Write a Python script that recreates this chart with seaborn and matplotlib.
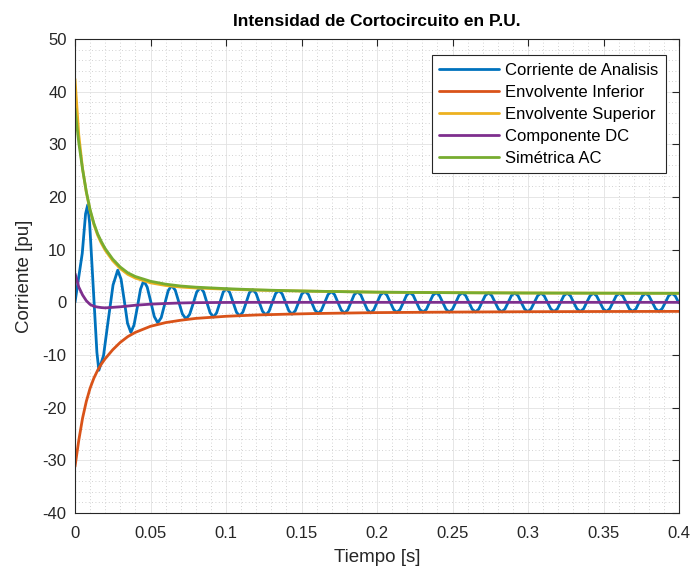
import matplotlib
matplotlib.use("Agg")
import matplotlib.pyplot as plt
import seaborn as sns
import pandas as pd
from matplotlib.ticker import MultipleLocator

# ---------------- data ----------------
t_env = [0, 0.0025, 0.005, 0.0075, 0.01, 0.0125, 0.015, 0.0175, 0.02, 0.025, 0.03,
         0.035, 0.04, 0.05, 0.06, 0.07, 0.08, 0.1, 0.12, 0.14, 0.16, 0.2, 0.25,
         0.3, 0.35, 0.4]
sim_ac = [36.8, 30.3, 25.3, 21.0, 17.6, 15.0, 13.0, 11.5, 10.2, 8.2, 6.7,
          5.6, 4.9, 4.0, 3.45, 3.1, 2.88, 2.6, 2.38, 2.22, 2.1, 1.93, 1.83,
          1.77, 1.74, 1.72]
env_sup = [42.4, 31.8, 25.4, 20.9, 17.4, 14.8, 12.75, 11.2, 9.9, 7.9, 6.4,
           5.3, 4.6, 3.7, 3.2, 2.9, 2.72, 2.5, 2.32, 2.2, 2.1, 1.93, 1.83,
           1.77, 1.74, 1.72]
env_inf = [-31.2, -26.2, -22.0, -18.8, -16.3, -14.4, -12.9, -11.7, -10.7, -9.0, -7.6,
           -6.5, -5.7, -4.55, -3.85, -3.4, -3.05, -2.65, -2.4, -2.25, -2.12, -1.95, -1.85,
           -1.78, -1.74, -1.72]
comp_dc = [5.5, 2.9, 1.4, 0.3, -0.4, -0.75, -0.9, -1.0, -1.05, -0.95, -0.85,
           -0.7, -0.55, -0.35, -0.22, -0.12, -0.06, -0.02, 0, 0, 0, 0, 0,
           0, 0, 0]

t_blue = [0, 0.0048, 0.0070, 0.0084, 0.0097, 0.0121, 0.0145, 0.0158,
          0.0189, 0.0220, 0.0252, 0.0283, 0.0305, 0.0327, 0.0348, 0.0370,
          0.0391, 0.0413, 0.0434, 0.0455, 0.0478, 0.0502, 0.0525, 0.0548,
          0.0571, 0.0594, 0.0617, 0.0640, 0.0664, 0.0688, 0.0711, 0.0735,
          0.0759, 0.0783, 0.0806,
          0.0830, 0.0852, 0.0873, 0.0895, 0.0917, 0.0938, 0.0960, 0.0982,
          0.1004, 0.1025, 0.1047, 0.1069, 0.1090, 0.1112, 0.1134, 0.1155,
          0.1177, 0.1199, 0.1220, 0.1242, 0.1264, 0.1285, 0.1307, 0.1329,
          0.1351, 0.1372, 0.1394, 0.1416, 0.1437, 0.1459, 0.1481, 0.1502,
          0.1524, 0.1546, 0.1567, 0.1589, 0.1611, 0.1632, 0.1654, 0.1676,
          0.1698, 0.1719, 0.1741, 0.1763, 0.1784, 0.1806, 0.1828, 0.1849,
          0.1871, 0.1893, 0.1914, 0.1936, 0.1958, 0.1979, 0.2001, 0.2023,
          0.2045, 0.2066, 0.2088, 0.2110, 0.2131, 0.2153, 0.2175, 0.2196,
          0.2218, 0.2240, 0.2261, 0.2283, 0.2305, 0.2327, 0.2348, 0.2370,
          0.2392, 0.2413, 0.2435, 0.2457, 0.2478, 0.2500, 0.2522, 0.2543,
          0.2565, 0.2587, 0.2609, 0.2630, 0.2652, 0.2674, 0.2695, 0.2717,
          0.2739, 0.2760, 0.2782, 0.2804, 0.2825, 0.2847, 0.2869, 0.2890,
          0.2912, 0.2934, 0.2955, 0.2977, 0.2999, 0.3020, 0.3042, 0.3064,
          0.3086, 0.3107, 0.3129, 0.3151, 0.3172, 0.3194, 0.3216, 0.3237,
          0.3259, 0.3281, 0.3302, 0.3324, 0.3346, 0.3368, 0.3389, 0.3411,
          0.3433, 0.3454, 0.3476, 0.3498, 0.3519, 0.3541, 0.3563, 0.3584,
          0.3606, 0.3628, 0.3650, 0.3671, 0.3693, 0.3715, 0.3736, 0.3758,
          0.3780, 0.3801, 0.3823, 0.3845, 0.3866, 0.3888, 0.3910, 0.3931,
          0.3953, 0.3975, 0.3997, 0.4]
i_blue = [0, 9.3, 16.8, 18.5, 15.0, 2.8, -9.5, -12.9,
          -10.1, -3.4, 3.3, 6.1, 4.4, 0.2, -4.0, -5.7,
          -4.3, -0.9, 2.5, 4.1, 2.9, 0.1, -2.7, -3.9,
          -2.9, -0.35, 2.2, 3.2, 2.3, 0.0, -2.2, -3.15,
          -2.3, -0.2, 1.95,
          2.8, 1.99, 0, -1.99, -2.8, -1.99, 0, 1.99,
          2.6, 1.85, 0, -1.85, -2.6, -1.85, 0, 1.85,
          2.4, 1.70, 0, -1.70, -2.4, -1.70, 0, 1.70,
          2.25, 1.60, 0, -1.60, -2.25, -1.60, 0, 1.60,
          2.1, 1.49, 0, -1.49, -2.1, -1.49, 0, 1.49,
          2.05, 1.46, 0, -1.46, -2.05, -1.46, 0, 1.46,
          2.0, 1.42, 0, -1.42, -2.0, -1.42, 0, 1.42,
          1.92, 1.36, 0, -1.36, -1.92, -1.36, 0, 1.36,
          1.88, 1.33, 0, -1.33, -1.88, -1.33, 0, 1.33,
          1.85, 1.31, 0, -1.31, -1.85, -1.31, 0, 1.31,
          1.82, 1.29, 0, -1.29, -1.82, -1.29, 0, 1.29,
          1.8, 1.28, 0, -1.28, -1.8, -1.28, 0, 1.28,
          1.78, 1.26, 0, -1.26, -1.78, -1.26, 0, 1.26,
          1.76, 1.25, 0, -1.25, -1.76, -1.25, 0, 1.25,
          1.75, 1.24, 0, -1.24, -1.75, -1.24, 0, 1.24,
          1.74, 1.24, 0, -1.24, -1.74, -1.24, 0, 1.24,
          1.73, 1.23, 0, -1.23, -1.73, -1.23, 0, 1.23,
          1.72, 1.22, 0, -1.22, -1.72, -1.22, 0, 1.22,
          1.72, 1.22, 0, -0.1]

labels = ["Corriente de Analisis", "Envolvente Inferior", "Envolvente Superior",
          "Componente DC", "Simétrica AC"]
colors = ["#0072BD", "#D95319", "#EDB120", "#7E2F8E", "#77AC30"]

x_ticks = [0, 0.05, 0.1, 0.15, 0.2, 0.25, 0.3, 0.35, 0.4]
x_ticklabels = ["0", "0.05", "0.1", "0.15", "0.2", "0.25", "0.3", "0.35", "0.4"]
y_ticks = [-40, -30, -20, -10, 0, 10, 20, 30, 40, 50]

# ---------------- plot ----------------
sns.set_style("white")
plt.rcParams["font.family"] = ["Liberation Sans", "DejaVu Sans"]
plt.rcParams["axes.unicode_minus"] = False

fig = plt.figure(figsize=(6.92, 5.74), dpi=100)
ax = fig.add_axes([75 / 692, 1 - 513 / 574, (679 - 75) / 692, (513 - 39) / 574])

df_blue = pd.DataFrame({"t": t_blue, "i": i_blue})
df_env = pd.DataFrame({"t": t_env, "inf": env_inf, "sup": env_sup,
                       "dc": comp_dc, "ac": sim_ac})

lw = 2.0
sns.lineplot(data=df_blue, x="t", y="i", ax=ax, color=colors[0], lw=lw,
             label=labels[0], sort=False, estimator=None)
sns.lineplot(data=df_env, x="t", y="inf", ax=ax, color=colors[1], lw=lw,
             label=labels[1], estimator=None)
sns.lineplot(data=df_env, x="t", y="sup", ax=ax, color=colors[2], lw=lw,
             label=labels[2], estimator=None)
sns.lineplot(data=df_env, x="t", y="dc", ax=ax, color=colors[3], lw=lw,
             label=labels[3], estimator=None)
sns.lineplot(data=df_env, x="t", y="ac", ax=ax, color=colors[4], lw=lw,
             label=labels[4], estimator=None)

ax.set_xlim(0, 0.4)
ax.set_ylim(-40, 50)
ax.set_xticks(x_ticks)
ax.set_xticklabels(x_ticklabels)
ax.set_yticks(y_ticks)
ax.xaxis.set_minor_locator(MultipleLocator(0.01))
ax.yaxis.set_minor_locator(MultipleLocator(2))
ax.grid(True, which="major", color="#e2e2e2", lw=0.6, ls="-")
ax.grid(True, which="minor", color="#c4c4c4", lw=0.6, ls=(0, (1, 3)))
ax.set_axisbelow(True)
ax.tick_params(which="major", direction="in", length=5, width=0.8,
               top=True, right=True, labelsize=12, colors="#262626")
ax.tick_params(axis="x", which="major", pad=9)
ax.tick_params(axis="y", which="major", pad=6)
ax.tick_params(which="minor", length=0, top=True, right=True)
for s in ax.spines.values():
    s.set_color("#262626")
    s.set_linewidth(0.8)

ax.set_xlabel("Tiempo [s]", fontsize=13.5, color="#262626", labelpad=6)
ax.set_ylabel("Corriente [pu]", fontsize=13.5, color="#262626", labelpad=7)
ax.set_title("Intensidad de Cortocircuito en P.U.", fontsize=12.5,
             fontweight="bold", color="black", pad=9)

leg = ax.legend(loc="upper right", bbox_to_anchor=(0.978, 0.966), fontsize=12,
                frameon=True, fancybox=False, framealpha=1, edgecolor="#262626",
                handlelength=3.6, handletextpad=0.35, borderpad=0.45,
                labelspacing=0.42, borderaxespad=0)
leg.get_frame().set_linewidth(0.8)
for txt in leg.get_texts():
    txt.set_color("black")

fig.savefig("out.png", dpi=100)
